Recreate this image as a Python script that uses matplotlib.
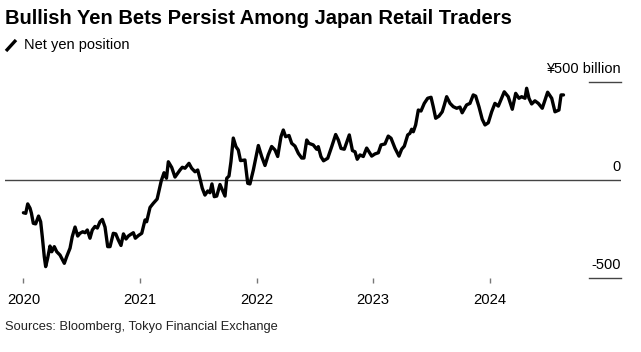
import matplotlib
matplotlib.use("Agg")
import matplotlib.pyplot as plt
from matplotlib.lines import Line2D
import numpy as np

# Position in decimal years (2020.0 = Jan 1, 2020)
year_pos = [
    2020.000, 2020.020, 2020.037, 2020.057, 2020.069, 2020.085, 2020.105, 2020.130, 2020.148, 2020.162,
    2020.179, 2020.191, 2020.208, 2020.228, 2020.243, 2020.265, 2020.286, 2020.314, 2020.351, 2020.371,
    2020.400, 2020.419, 2020.443, 2020.466, 2020.485, 2020.509, 2020.528, 2020.548, 2020.571, 2020.591,
    2020.614, 2020.634, 2020.657, 2020.677, 2020.700, 2020.723, 2020.743, 2020.771, 2020.792, 2020.814,
    2020.837, 2020.858, 2020.880, 2020.900, 2020.914, 2020.943, 2020.960, 2020.987, 2021.015, 2021.043,
    2021.057, 2021.086, 2021.114, 2021.147, 2021.182, 2021.206, 2021.227, 2021.243, 2021.272, 2021.300,
    2021.343, 2021.363, 2021.386, 2021.420, 2021.443, 2021.472, 2021.495, 2021.515, 2021.534, 2021.557,
    2021.581, 2021.600, 2021.617, 2021.637, 2021.658, 2021.686, 2021.706, 2021.729, 2021.744, 2021.763,
    2021.780, 2021.800, 2021.823, 2021.843, 2021.862, 2021.900, 2021.924, 2021.943, 2021.972, 2022.015,
    2022.044, 2022.072, 2022.100, 2022.129, 2022.158, 2022.181, 2022.209, 2022.229, 2022.249, 2022.278,
    2022.301, 2022.329, 2022.358, 2022.387, 2022.406, 2022.430, 2022.449, 2022.486, 2022.515, 2022.529,
    2022.552, 2022.574, 2022.610, 2022.644, 2022.678, 2022.701, 2022.724, 2022.752, 2022.795, 2022.822,
    2022.844, 2022.863, 2022.887, 2022.915, 2022.944, 2022.964, 2022.987, 2023.015, 2023.044, 2023.067,
    2023.101, 2023.129, 2023.153, 2023.187, 2023.221, 2023.244, 2023.267, 2023.296, 2023.315, 2023.330,
    2023.344, 2023.364, 2023.387, 2023.410, 2023.438, 2023.467, 2023.496, 2023.515, 2023.536, 2023.564,
    2023.592, 2023.610, 2023.630, 2023.659, 2023.687, 2023.716, 2023.744, 2023.763, 2023.801, 2023.830,
    2023.858, 2023.879, 2023.907, 2023.935, 2023.959, 2023.987, 2024.016, 2024.044, 2024.073, 2024.124,
    2024.158, 2024.193, 2024.222, 2024.250, 2024.273, 2024.302, 2024.316, 2024.336, 2024.359, 2024.387,
    2024.416, 2024.450, 2024.496, 2024.531, 2024.559, 2024.593, 2024.611, 2024.632,
]

# Net yen position, billions of yen
net_yen = [
    -167, -170, -122, -144, -170, -221, -224, -184, -213, -289,
    -391, -442, -399, -337, -366, -340, -366, -383, -425, -391,
    -348, -289, -240, -286, -272, -264, -269, -255, -297, -255,
    -237, -245, -213, -201, -240, -340, -340, -272, -275, -306,
    -334, -275, -301, -286, -280, -269, -297, -283, -272, -204,
    -213, -140, -119, -97, -5, 37, 9, 93, 64, 15,
    51, 65, 60, 85, 60, 42, 51, 5, -42, -77,
    -56, -65, -20, -85, -82, -23, -51, -82, 9, 20,
    93, 214, 170, 153, 99, 102, -17, -20, 51, 176,
    119, 74, 128, 171, 153, 120, 221, 255, 221, 227,
    187, 173, 136, 112, 112, 204, 187, 179, 157, 170,
    119, 98, 111, 170, 232, 204, 161, 157, 230, 150,
    144, 106, 128, 120, 163, 144, 122, 133, 139, 179,
    184, 224, 213, 162, 122, 157, 173, 230, 238, 259,
    246, 281, 357, 352, 391, 417, 422, 374, 315, 326,
    348, 383, 425, 391, 374, 366, 372, 343, 383, 391,
    434, 428, 374, 310, 281, 292, 348, 391, 377, 450,
    425, 361, 442, 417, 425, 417, 468, 417, 388, 404,
    391, 366, 448, 417, 348, 357, 434, 434,
]

year_ticks = [2020, 2021, 2022, 2023, 2024]
y_ticks = [500, 0, -500]
y_tick_labels = ["¥500 billion", "0", "-500"]

title = "Bullish Yen Bets Persist Among Japan Retail Traders"
series_label = "Net yen position"
source = "Sources: Bloomberg, Tokyo Financial Exchange"

plt.rcParams["font.family"] = ["Liberation Sans", "DejaVu Sans"]

W, H = 641, 352
fig = plt.figure(figsize=(W / 100, H / 100), dpi=100)

left_px, right_px, top_px, bot_px = 5, 621, 82, 278
ax = fig.add_axes([left_px / W, 1 - bot_px / H, (right_px - left_px) / W, (bot_px - top_px) / H])

ax.plot(year_pos, net_yen, color="black", lw=2.4, solid_joinstyle="round",
        solid_capstyle="round", clip_on=False, zorder=3)

x0 = 2020 - (23.4 - left_px) / 116.6
x1 = 2020 + (right_px - 23.4) / 116.6
ax.set_xlim(x0, x1)
ax.set_ylim(-500, 500)

for s in ax.spines.values():
    s.set_visible(False)
ax.set_yticks([])
ax.set_xticks(year_ticks)
ax.set_xticklabels([str(y) for y in year_ticks], fontsize=10.6)
ax.tick_params(axis="x", length=3.6, width=1, color="#777777", pad=7.3, labelcolor="black")

# zero line full width, other gridlines short segments under labels
ax.axhline(0, color="#444444", lw=1, zorder=1)
seg_start = (589 - left_px) / (right_px - left_px)
for v, lab in zip(y_ticks, y_tick_labels):
    if v != 0:
        ax.plot([seg_start, 1.0], [v, v], transform=ax.get_yaxis_transform(),
                color="#444444", lw=1, clip_on=False)
    ax.text(1.0, v + 30, lab, transform=ax.get_yaxis_transform(), ha="right",
            va="bottom", fontsize=10.5, color="black")

fig.text(5 / W, 1 - 19 / H, title, fontsize=14.5, fontweight="bold", ha="left", va="center")
fig.add_artist(Line2D([6 / W, 16 / W], [1 - 51 / H, 1 - 40 / H], color="black", lw=2.4,
                      solid_capstyle="butt", transform=fig.transFigure))
fig.text(24 / W, 1 - 45 / H, series_label, fontsize=10.5, ha="left", va="center")
fig.text(5 / W, 1 - 327 / H, source, fontsize=9.3, ha="left", va="center", color="#222222")

fig.savefig("out.png", dpi=100)
